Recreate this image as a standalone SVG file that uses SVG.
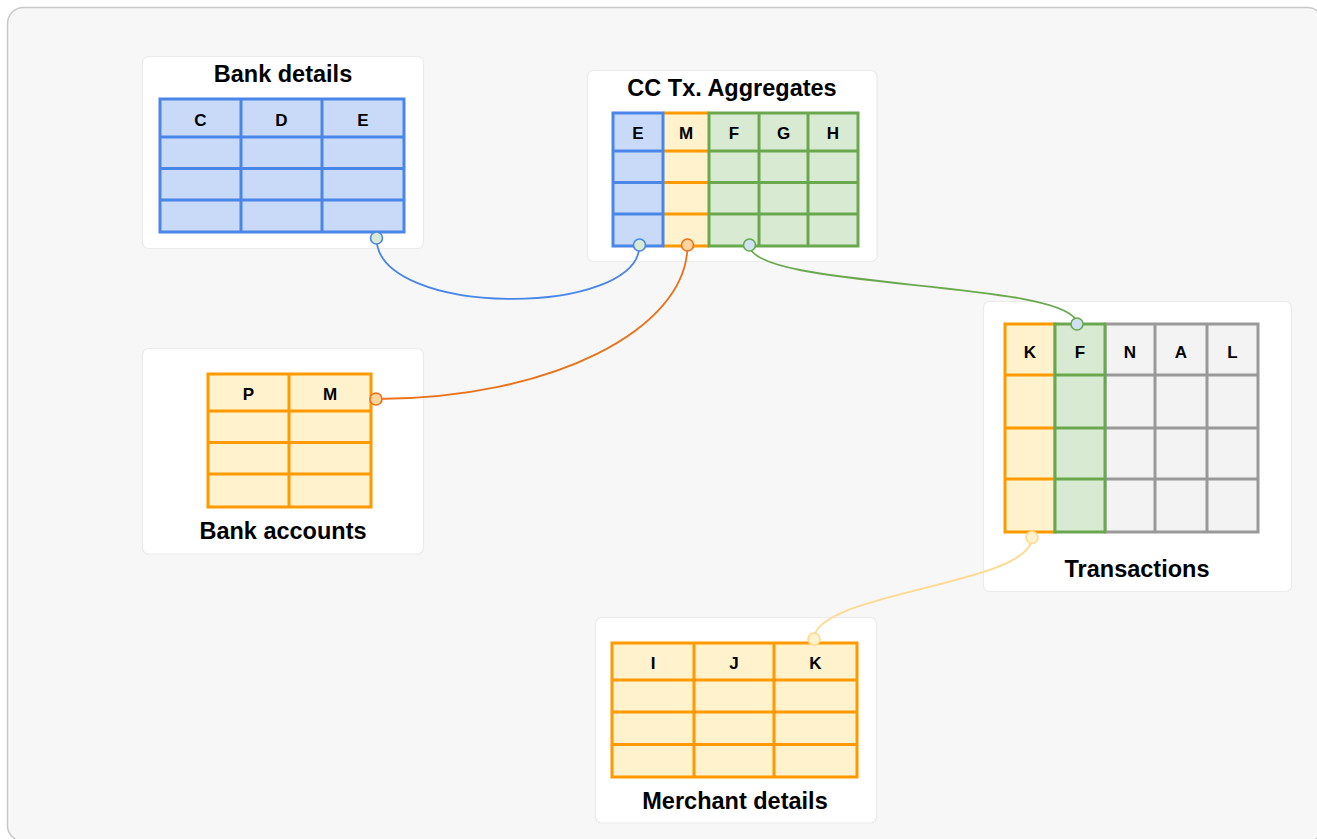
<svg xmlns="http://www.w3.org/2000/svg" width="1317" height="839" viewBox="0 0 1317 839">
<style>
.card{fill:#ffffff;stroke:#ebebeb;stroke-width:1.2}
.title{font-family:"Liberation Sans",Arial,sans-serif;font-weight:bold;font-size:23.5px;fill:#000;text-anchor:middle}
.hdr{font-family:"Liberation Sans",Arial,sans-serif;font-weight:bold;font-size:17px;fill:#000;text-anchor:middle}
.b{stroke:#4a86e8;stroke-width:3;fill:none}
.bf{fill:#c9daf8}
.o{stroke:#ff9900;stroke-width:3;fill:none}
.of{fill:#fff2cc}
.g{stroke:#6aa84f;stroke-width:3;fill:none}
.gf{fill:#d9ead3}
.y{stroke:#999999;stroke-width:3;fill:none}
.yf{fill:#f3f3f3}
.conn{fill:none;stroke-width:1.8}
.dot{stroke-width:1.6}
</style>
<rect x="7.5" y="7.5" width="1316" height="834" rx="16" fill="#f7f7f7" stroke="#c8c8c8" stroke-width="1.5"/>

<g id="bank-details">
<rect class="card" x="142.5" y="56.5" width="281" height="192" rx="6"/>
<text class="title" x="283" y="82">Bank details</text>
<rect class="bf" x="160" y="99" width="244" height="133"/>
<path class="b" d="M241,99V232M322,99V232M160,137H404M160,168.5H404M160,200H404"/>
<rect class="b" x="160" y="99" width="244" height="133"/>
<text class="hdr" x="200.5" y="126">C</text>
<text class="hdr" x="281.5" y="126">D</text>
<text class="hdr" x="363" y="126">E</text>
</g>

<g id="cc-tx-aggregates">
<rect class="card" x="587.5" y="70.5" width="289.5" height="191" rx="6"/>
<text class="title" x="732" y="96">CC Tx. Aggregates</text>
<rect class="of" x="663" y="113" width="46" height="133"/>
<path class="o" d="M663,113H709M663,151H709M663,182.5H709M663,214H709M663,246H709"/>
<rect class="bf" x="613" y="113" width="50" height="133"/>
<path class="b" d="M613,151H663M613,182.5H663M613,214H663"/>
<rect class="b" x="613" y="113" width="50" height="133"/>
<rect class="gf" x="709" y="113" width="149" height="133"/>
<path class="g" d="M759,113V246M808,113V246M709,151H858M709,182.5H858M709,214H858"/>
<rect class="g" x="709" y="113" width="149" height="133"/>
<text class="hdr" x="638" y="139">E</text>
<text class="hdr" x="686" y="139">M</text>
<text class="hdr" x="734" y="139">F</text>
<text class="hdr" x="783.5" y="139">G</text>
<text class="hdr" x="833" y="139">H</text>
</g>

<g id="transactions">
<rect class="card" x="983.5" y="301.5" width="308" height="290" rx="6"/>
<text class="title" x="1137" y="577">Transactions</text>
<rect class="yf" x="1105" y="324" width="153" height="208"/>
<path class="y" d="M1155,324V532M1207,324V532M1105,375H1258M1105,428H1258M1105,479H1258"/>
<rect class="y" x="1105" y="324" width="153" height="208"/>
<rect class="of" x="1005" y="324" width="50" height="208"/>
<path class="o" d="M1005,375H1055M1005,428H1055M1005,479H1055"/>
<rect class="o" x="1005" y="324" width="50" height="208"/>
<rect class="gf" x="1055" y="324" width="50" height="208"/>
<path class="g" d="M1055,375H1105M1055,428H1105M1055,479H1105"/>
<rect class="g" x="1055" y="324" width="50" height="208"/>
<text class="hdr" x="1030" y="358">K</text>
<text class="hdr" x="1080" y="358">F</text>
<text class="hdr" x="1130" y="358">N</text>
<text class="hdr" x="1181" y="358">A</text>
<text class="hdr" x="1232.5" y="358">L</text>
</g>

<g id="bank-accounts">
<rect class="card" x="142.5" y="348.5" width="281" height="205.5" rx="6"/>
<text class="title" x="283" y="539">Bank accounts</text>
<rect class="of" x="208" y="374" width="163" height="133"/>
<path class="o" d="M289,374V507M208,411H371M208,442.5H371M208,474H371"/>
<rect class="o" x="208" y="374" width="163" height="133"/>
<text class="hdr" x="248.5" y="400">P</text>
<text class="hdr" x="330" y="400">M</text>
</g>

<g id="merchant-details">
<rect class="card" x="595.5" y="617.5" width="281" height="205.5" rx="6"/>
<text class="title" x="735" y="809">Merchant details</text>
<rect class="of" x="612" y="643" width="245" height="134"/>
<path class="o" d="M694,643V777M774,643V777M612,680H857M612,712H857M612,744.5H857"/>
<rect class="o" x="612" y="643" width="245" height="134"/>
<text class="hdr" x="653" y="669">I</text>
<text class="hdr" x="734" y="669">J</text>
<text class="hdr" x="815.5" y="669">K</text>
</g>

<g id="connectors">
<path class="conn" stroke="#4a86e8" d="M376.5,238 C376.5,318 639.5,318 639.5,245"/>
<path class="conn" stroke="#e8711a" d="M687.5,245 C687.5,330 550,399 376,399"/>
<path class="conn" stroke="#6aa84f" d="M749.5,245 C749.5,290 1077,280 1077,324"/>
<path class="conn" stroke="#ffd98e" d="M1032,537.5 C1032,585 814,592 814,639"/>
<circle class="dot" cx="376.5" cy="238" r="6" fill="#d9ead3" stroke="#4a86e8"/>
<circle class="dot" cx="639.5" cy="245" r="6" fill="#d9ead3" stroke="#4a86e8"/>
<circle class="dot" cx="687.5" cy="245" r="6" fill="#ffd59e" stroke="#e8711a"/>
<circle class="dot" cx="376" cy="399" r="6" fill="#ffd59e" stroke="#e8711a"/>
<circle class="dot" cx="749.5" cy="245" r="6" fill="#cfe2f3" stroke="#6aa84f"/>
<circle class="dot" cx="1077" cy="324" r="6" fill="#cfe2f3" stroke="#6aa84f"/>
<circle class="dot" cx="1032" cy="537.5" r="6" fill="#fff2cc" stroke="#ffd98e"/>
<circle class="dot" cx="814" cy="639" r="6" fill="#fff2cc" stroke="#ffd98e"/>
</g>
</svg>
